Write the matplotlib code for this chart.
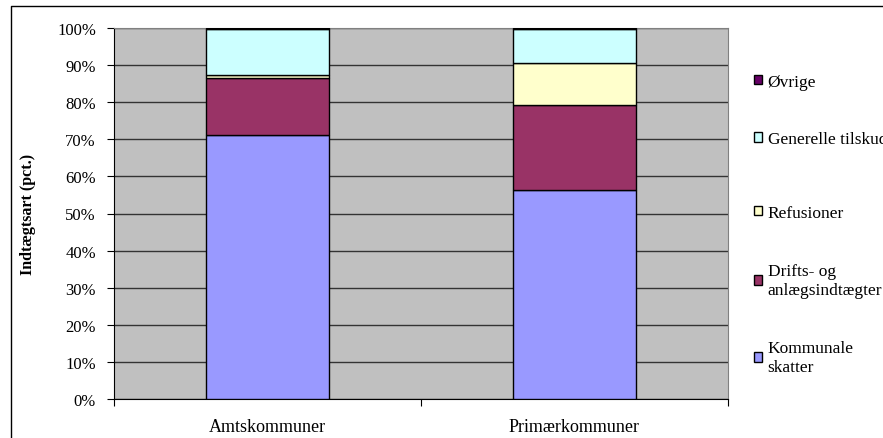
import matplotlib.pyplot as plt
from matplotlib.lines import Line2D
import numpy as np

plt.rcParams['font.family'] = ['Liberation Serif', 'DejaVu Serif']

# Income type shares (pct.) per municipality type
categories = ["Amtskommuner", "Primærkommuner"]
series = ["Kommunale\nskatter", "Drifts- og\nanlægsindtægter", "Refusioner",
          "Generelle tilskud", "Øvrige"]
kommunale_skatter = [71.2, 56.4]
drifts_anlaeg = [15.2, 22.8]
refusioner = [0.8, 11.4]
generelle_tilskud = [12.5, 9.1]
oevrige = [0.3, 0.3]
colors = ["#9999FF", "#993366", "#FFFFCC", "#CCFFFF", "#660066"]

values = [kommunale_skatter, drifts_anlaeg, refusioner, generelle_tilskud, oevrige]

fig = plt.figure(figsize=(8.83, 4.39), dpi=100)
ax = fig.add_axes([114 / 883, 1 - 400 / 439, 614 / 883, 371 / 439])
ax.set_facecolor("#C0C0C0")

x = np.arange(len(categories))
bottom = np.zeros(len(categories))
handles = []
for vals, name, col in zip(values, series, colors):
    b = ax.bar(x, vals, width=0.4, bottom=bottom, color=col, edgecolor="black",
               linewidth=1, label=name, zorder=3)
    handles.append(b)
    bottom += np.array(vals)

ax.set_xlim(-0.5, 1.5)
ax.set_ylim(0, 100)
ax.set_yticks(np.arange(0, 101, 10))
ax.set_yticklabels([f"{v}%" for v in range(0, 101, 10)])
ax.yaxis.grid(True, color="#333333", linewidth=1, zorder=0)
ax.set_axisbelow(True)

ax.set_xticks([-0.5, 0.5, 1.5])
ax.set_xticklabels([])
ax.set_xticks(x, minor=True)
ax.set_xticklabels(categories, minor=True, fontsize=13)
ax.tick_params(axis="x", which="minor", length=0, pad=14)
ax.tick_params(axis="x", which="major", length=5, direction="out", color="black")
ax.tick_params(axis="y", length=5, direction="out", pad=8, labelsize=12)

for s in ["top", "right"]:
    ax.spines[s].set_color("#808080")
ax.spines["left"].set_color("black")
ax.spines["bottom"].set_color("black")

ax.set_ylabel("Indtægtsart (pct.)", fontsize=11.5, fontweight="bold", labelpad=15)

# legend in two blocks, reversed order like the original
leg_kw = dict(frameon=False, fontsize=12.5, handlelength=0.5, handleheight=0.5,
              handletextpad=0.3, borderpad=0, loc="upper left",
              bbox_transform=fig.transFigure)
leg1 = ax.legend([handles[4], handles[3]], [series[4], series[3]], labelspacing=2.4,
                 bbox_to_anchor=(745 / 883, 1 - 66 / 439), **leg_kw)
ax.add_artist(leg1)
ax.legend([handles[2], handles[1], handles[0]], [series[2], series[1], series[0]],
          labelspacing=2.45, bbox_to_anchor=(745 / 883, 1 - 197 / 439), **leg_kw)

# outer chart border
fig.add_artist(Line2D([10.5 / 883, 10.5 / 883, 1], [0, 1 - 7 / 439, 1 - 7 / 439],
                      color="black", linewidth=1, transform=fig.transFigure))

fig.savefig("out.png", dpi=100)
